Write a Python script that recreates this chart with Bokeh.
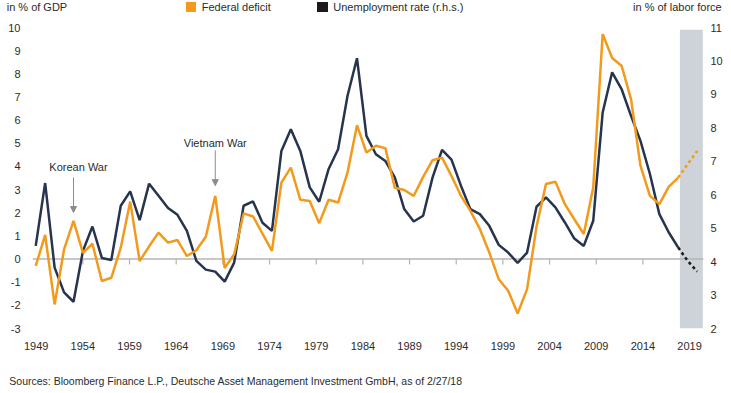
from bokeh.plotting import figure
from bokeh.layouts import column
from bokeh.models import (Range1d, LinearAxis, FixedTicker, Label, Arrow, NormalHead,
                          ColumnDataSource, Div)
from bokeh.embed import file_html
from bokeh.resources import INLINE

# ---------------- data ----------------
years = list(range(1949, 2020))
deficit = [-0.30, 1.04, -1.96, 0.42, 1.65, 0.27, 0.66, -0.95, -0.81, 0.49,
           2.48, -0.09, 0.55, 1.14, 0.71, 0.82, 0.13, 0.38, 0.96, 2.73,
           -0.39, 0.20, 1.97, 1.84, 1.10, 0.35, 3.30, 3.95, 2.56, 2.51,
           1.55, 2.56, 2.44, 3.74, 5.78, 4.60, 4.89, 4.79, 3.08, 2.98,
           2.72, 3.55, 4.27, 4.38, 3.59, 2.73, 2.08, 1.30, 0.28, -0.87,
           -1.37, -2.35, -1.30, 1.40, 3.24, 3.34, 2.37, 1.72, 1.08, 3.09,
           9.72, 8.68, 8.35, 6.91, 4.03, 2.73, 2.37, 3.13, 3.52, 4.10, 4.67]
unemployment = [4.47, 6.35, 3.82, 3.08, 2.80, 4.32, 5.05, 4.11, 4.05, 5.67,
                6.10, 5.24, 6.33, 5.97, 5.60, 5.40, 4.92, 4.02, 3.76, 3.70,
                3.40, 3.97, 5.67, 5.80, 5.16, 4.92, 7.31, 7.96, 7.31, 6.22,
                5.79, 6.77, 7.36, 8.96, 10.08, 7.76, 7.21, 7.01, 6.52, 5.57,
                5.20, 5.37, 6.52, 7.34, 7.05, 6.27, 5.57, 5.42, 5.07, 4.50,
                4.27, 3.96, 4.27, 5.64, 5.92, 5.62, 5.17, 4.69, 4.47, 5.22,
                8.46, 9.66, 9.16, 8.36, 7.61, 6.62, 5.42, 4.87, 4.42, 4.02, 3.70]
last_actual_year = 2017
forecast_band = (2017.17, 2019.6)

x_tick_labels = ["1949", "1954", "1959", "1964", "1969", "1974", "1979",
                 "1984", "1989", "1994", "1999", "2004", "2009", "2014", "2019"]
left_ticks = list(range(-3, 11))
right_ticks = list(range(2, 12))

events = ["Korean War", "Vietnam War"]
event_years = [1953, 1968]

series_names = ["Federal deficit", "Unemployment rate (r.h.s.)"]
left_title = "in % of GDP"
right_title = "in % of labor force"
source_text = "Sources: Bloomberg Finance L.P., Deutsche Asset Management Investment GmbH, as of 2/27/18"

# ---------------- style ----------------
ORANGE = "#F39A1C"
NAVY = "#27344D"
BLACK = "#1a1a1a"
BAND = "#CDD3D8"
AXIS = "#b4b4b4"
GRAY = "#8c8c8c"
TEXT = "#2b2b2b"
FONT = "Liberation Sans"
W = 728

TICK_FIRST = 1949.05   # axis labels sit on a slightly narrower grid than the data
TICK_STEP = 4.939

# ---------------- header (legend + axis titles) ----------------
base = (f"position:absolute;top:0px;white-space:nowrap;line-height:14px;"
        f"font-family:'{FONT}';font-size:11px;color:{TEXT};")
sq = "position:absolute;top:1.8px;width:10.5px;height:10.5px;"
legend_colors = [ORANGE, BLACK]
legend_square_x = [185.7, 317.3]
parts = [f'<span style="{base}left:6.7px;">{left_title}</span>']
for name, col, sx in zip(series_names, legend_colors, legend_square_x):
    parts.append(f'<span style="{sq}left:{sx}px;background:{col};"></span>')
    parts.append(f'<span style="{base}left:{sx + 16}px;">{name}</span>')
parts.append(f'<span style="{base}right:{W - 721.7:.1f}px;">{right_title}</span>')
hdr = Div(text=f'<div style="position:relative;width:{W}px;height:20px;">' + "".join(parts) + "</div>",
          width=W, height=20, margin=0)

# ---------------- main chart ----------------
p = figure(width=W, height=340, output_backend="svg", toolbar_location=None,
           x_range=Range1d(1948.66, 2019.67), y_range=Range1d(-3, 10),
           min_border_left=32, min_border_right=25, min_border_top=7, min_border_bottom=32)
p.outline_line_color = None
p.xgrid.visible = False
p.ygrid.visible = False
p.extra_y_ranges = {"right": Range1d(2, 11)}

xa = p.xaxis[0]
tick_pos = [TICK_FIRST + i * TICK_STEP for i in range(len(x_tick_labels))]
xa.ticker = FixedTicker(ticks=tick_pos)
xa.major_label_overrides = {t: l for t, l in zip(tick_pos, x_tick_labels)}
ya = p.yaxis[0]
ya.ticker = FixedTicker(ticks=left_ticks)
ya.major_label_overrides = {t: str(t) for t in left_ticks}
ra = LinearAxis(y_range_name="right", ticker=FixedTicker(ticks=right_ticks))
ra.major_label_overrides = {t: str(t) for t in right_ticks}
p.add_layout(ra, "right")

for ax, standoff in ((xa, 13), (ya, 12), (ra, 7)):
    ax.axis_line_color = None
    ax.major_tick_line_color = None
    ax.minor_tick_line_color = None
    ax.major_tick_out = 0
    ax.major_tick_in = 0
    ax.minor_tick_out = 0
    ax.minor_tick_in = 0
    ax.major_label_standoff = standoff
    ax.major_label_text_font = FONT
    ax.major_label_text_font_size = "11px"
    ax.major_label_text_color = TEXT

# forecast band
p.quad(left=[forecast_band[0]], right=[forecast_band[1]], bottom=[-3], top=[9.9],
       fill_color=BAND, line_color=None)

# zero line + tick marks
p.segment(x0=[p.x_range.start], x1=[p.x_range.end], y0=[0], y1=[0],
          line_color=AXIS, line_width=1.5)
inner = tick_pos[1:-1]
p.segment(x0=inner, x1=inner, y0=[0] * len(inner), y1=[-0.24] * len(inner),
          line_color=AXIS, line_width=1.2)

n_act = years.index(last_actual_year) + 1
act = ColumnDataSource(dict(x=years[:n_act], d=deficit[:n_act], u=unemployment[:n_act]))
fc = ColumnDataSource(dict(x=years[n_act - 1:], d=deficit[n_act - 1:], u=unemployment[n_act - 1:]))

p.line("x", "u", source=act, line_color=NAVY, line_width=2.5, y_range_name="right")
p.line("x", "d", source=act, line_color=ORANGE, line_width=2.5)
p.line("x", "u", source=fc, line_color=BLACK, line_width=2.5, line_dash="3 3", y_range_name="right")
p.line("x", "d", source=fc, line_color=ORANGE, line_width=2.5, line_dash="3 3")

# event annotations
text_y = [3.97, 5.02]
arrow_top = [3.52, 4.69]
arrow_tip = [2.01, 3.17]
text_dx = [5, 0]
for name, yr, ty, a0, a1, dx in zip(events, event_years, text_y, arrow_top, arrow_tip, text_dx):
    p.add_layout(Label(x=yr, y=ty, text=name, text_align="center", text_baseline="middle",
                       x_offset=dx, text_font=FONT, text_font_size="11px", text_color=TEXT))
    p.add_layout(Arrow(x_start=yr, y_start=a0, x_end=yr, y_end=a1, line_color=GRAY, line_width=1,
                       end=NormalHead(size=6, fill_color=GRAY, line_color=GRAY)))

# ---------------- footer ----------------
ftr = Div(text=(f'<div style="position:relative;width:{W}px;height:30px;">'
                f'<span style="position:absolute;left:9.3px;top:14px;white-space:nowrap;line-height:14px;'
                f"font-family:'{FONT}';font-size:10.5px;color:{TEXT};\">{source_text}</span></div>"),
          width=W, height=30, margin=0)

page = column(hdr, p, ftr, spacing=0)
open("out.html", "w").write(file_html(page, INLINE))
